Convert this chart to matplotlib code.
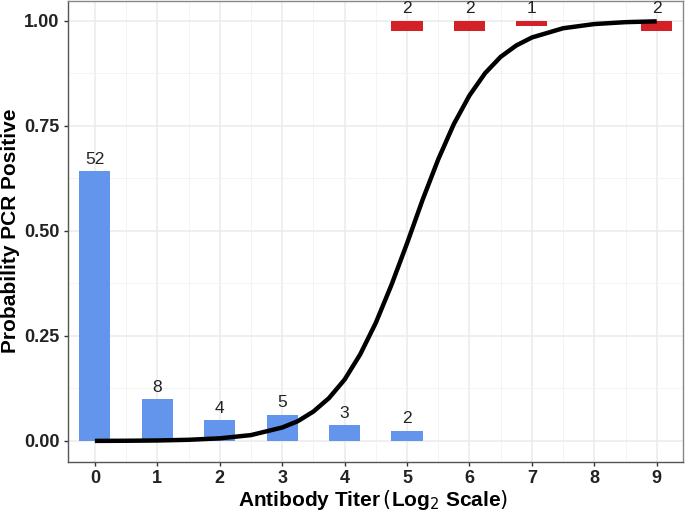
import matplotlib
matplotlib.use("Agg")
import matplotlib.pyplot as plt
from matplotlib.ticker import MultipleLocator

plt.rcParams['font.family'] = ['Liberation Sans', 'DejaVu Sans']

# counts of PCR negative / positive by titer
neg_titer = [0, 1, 2, 3, 4, 5]
neg_count = [52, 8, 4, 5, 3, 2]
pos_titer = [5, 6, 7, 9]
pos_count = [2, 2, 1, 2]
total = 81

# fitted curve
curve_x = [0, 0.5, 1, 1.5, 2, 2.5, 3, 3.25, 3.5, 3.75, 4, 4.25, 4.5, 4.75, 5,
           5.25, 5.5, 5.75, 6, 6.25, 6.5, 6.75, 7, 7.5, 8, 8.5, 9]
curve_y = [0.0002, 0.0005, 0.0012, 0.0028, 0.0063, 0.014, 0.032, 0.047, 0.070,
           0.102, 0.146, 0.206, 0.281, 0.371, 0.47, 0.574, 0.670, 0.754, 0.822,
           0.875, 0.914, 0.941, 0.960, 0.982, 0.992, 0.9965, 0.9985]

fig = plt.figure(figsize=(6.85, 5.17), dpi=100)
ax = fig.add_axes([0.0993, 0.1064, 0.8977, 0.8926])

neg_h = [c / total for c in neg_count]
pos_h = [c / total for c in pos_count]

ax.bar(neg_titer, neg_h, width=0.5, color='#6495ED', zorder=2)
ax.bar(pos_titer, [-h for h in pos_h], bottom=1.0, width=0.5, color='#D42027', zorder=2)

for x, h, c in zip(neg_titer, neg_h, neg_count):
    ax.text(x, h + 0.011, str(c), ha='center', va='bottom', fontsize=12.5, color='#222222', zorder=4)
for x, c in zip(pos_titer, pos_count):
    ax.text(x, 1.011, str(c), ha='center', va='bottom', fontsize=12.5, color='#222222', zorder=4)

ax.plot(curve_x, curve_y, color='black', lw=3.2, solid_capstyle='butt', zorder=3)

ax.set_xlim(-0.43, 9.42)
ax.set_ylim(-0.05, 1.048)
ax.xaxis.set_major_locator(MultipleLocator(1))
ax.xaxis.set_minor_locator(MultipleLocator(0.5))
ax.yaxis.set_major_locator(MultipleLocator(0.25))
ax.yaxis.set_minor_locator(MultipleLocator(0.125))
ax.set_yticks([0, 0.25, 0.5, 0.75, 1.0])
ax.set_yticklabels(['0.00', '0.25', '0.50', '0.75', '1.00'])

ax.grid(which='major', color='#EBEBEB', lw=1.1, zorder=0)
ax.grid(which='minor', color='#F2F2F2', lw=0.6, zorder=0)
ax.set_axisbelow(True)

for s in ax.spines.values():
    s.set_color('#888888')
    s.set_linewidth(1.0)
ax.spines['left'].set_color('#555555')
ax.spines['bottom'].set_color('#555555')

ax.tick_params(which='major', length=3, width=1, color='#333333', labelsize=13)
ax.tick_params(axis='x', pad=3)
ax.tick_params(axis='y', pad=3)
ax.tick_params(which='minor', length=0)
for lab in ax.get_xticklabels() + ax.get_yticklabels():
    lab.set_fontweight('bold')
    lab.set_color('#222222')

fig.text(373 / 685, 1 - 500 / 517, r'Antibody Titer$\,($Log$_2$ Scale$)$',
         fontsize=15, fontweight='bold', ha='center', va='center')
fig.text(11 / 685, 1 - 231 / 517, 'Probability PCR Positive', rotation=90,
         fontsize=15, fontweight='bold', ha='center', va='center')

fig.savefig('out.png', dpi=100)
